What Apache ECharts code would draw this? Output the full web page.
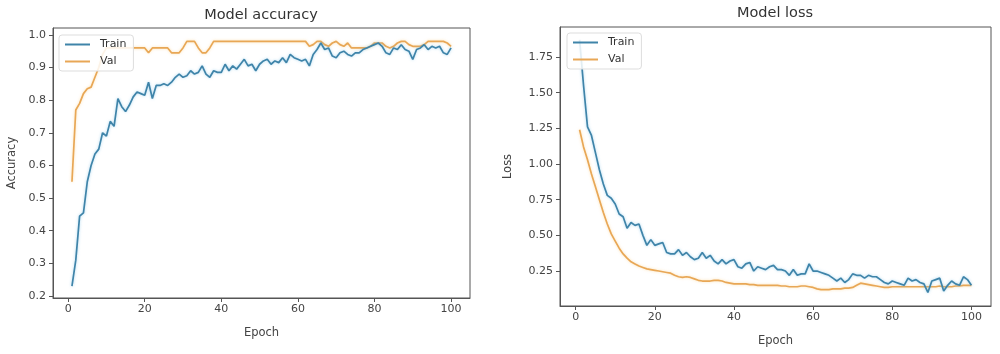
<!DOCTYPE html>
<html>
<head>
<meta charset="utf-8">
<style>
  html, body { margin: 0; padding: 0; background: #fff; }
  #chart { width: 1000px; height: 354px; }
</style>
<script src="https://cdn.jsdelivr.net/npm/echarts@6/dist/echarts.min.js"></script>
</head>
<body>
<div id="chart"></div>
<script>
  // epochs 1..100
  const epochs = [1,2,3,4,5,6,7,8,9,10,11,12,13,14,15,16,17,18,19,20,21,22,23,24,25,26,27,28,29,30,31,32,33,34,35,36,37,38,39,40,41,42,43,44,45,46,47,48,49,50,51,52,53,54,55,56,57,58,59,60,61,62,63,64,65,66,67,68,69,70,71,72,73,74,75,76,77,78,79,80,81,82,83,84,85,86,87,88,89,90,91,92,93,94,95,96,97,98,99,100];

  // Model accuracy
  const accTrain = [0.23,0.31,0.445,0.455,0.55,0.60,0.635,0.65,0.70,0.69,
    0.735,0.72,0.805,0.78,0.765,0.785,0.81,0.825,0.82,0.815,
    0.855,0.805,0.845,0.845,0.85,0.845,0.855,0.87,0.88,0.87,
    0.875,0.89,0.88,0.885,0.905,0.88,0.87,0.89,0.885,0.885,
    0.91,0.89,0.905,0.895,0.91,0.925,0.905,0.91,0.89,0.91,
    0.92,0.925,0.91,0.92,0.915,0.93,0.915,0.94,0.93,0.925,
    0.92,0.925,0.905,0.94,0.955,0.975,0.955,0.96,0.935,0.93,
    0.945,0.95,0.94,0.935,0.945,0.945,0.955,0.96,0.965,0.97,
    0.975,0.965,0.945,0.94,0.96,0.955,0.97,0.955,0.95,0.925,
    0.955,0.96,0.97,0.955,0.965,0.96,0.965,0.945,0.94,0.96];
  const accVal = [0.55,0.77,0.79,0.82,0.835,0.84,0.87,0.90,0.94,0.96,
    0.96,0.96,0.96,0.96,0.96,0.96,0.96,0.96,0.96,0.96,
    0.945,0.96,0.96,0.96,0.96,0.96,0.945,0.945,0.945,0.96,
    0.98,0.98,0.98,0.96,0.945,0.945,0.96,0.98,0.98,0.98,
    0.98,0.98,0.98,0.98,0.98,0.98,0.98,0.98,0.98,0.98,
    0.98,0.98,0.98,0.98,0.98,0.98,0.98,0.98,0.98,0.98,
    0.98,0.98,0.965,0.97,0.98,0.98,0.97,0.965,0.975,0.98,
    0.97,0.965,0.975,0.96,0.96,0.96,0.96,0.96,0.965,0.975,
    0.975,0.975,0.965,0.96,0.965,0.975,0.98,0.98,0.97,0.965,
    0.965,0.965,0.97,0.98,0.98,0.98,0.98,0.98,0.975,0.965];

  // Model loss
  const lossTrain = [1.87,1.55,1.26,1.20,1.08,0.96,0.86,0.78,0.76,0.72,
    0.65,0.63,0.55,0.59,0.57,0.58,0.50,0.43,0.47,0.43,
    0.44,0.45,0.38,0.37,0.37,0.40,0.36,0.38,0.35,0.33,
    0.34,0.38,0.34,0.36,0.32,0.30,0.33,0.30,0.32,0.33,
    0.28,0.27,0.30,0.31,0.25,0.28,0.27,0.26,0.28,0.29,
    0.26,0.26,0.25,0.22,0.26,0.22,0.23,0.23,0.30,0.25,
    0.25,0.24,0.23,0.22,0.20,0.18,0.20,0.17,0.19,0.23,
    0.22,0.22,0.20,0.22,0.21,0.21,0.19,0.17,0.16,0.18,
    0.17,0.16,0.15,0.20,0.18,0.19,0.17,0.16,0.10,0.18,
    0.19,0.20,0.11,0.15,0.18,0.16,0.15,0.21,0.19,0.15];
  const lossVal = [1.24,1.12,1.03,0.93,0.84,0.75,0.66,0.58,0.51,0.46,
    0.41,0.37,0.34,0.315,0.30,0.285,0.275,0.265,0.26,0.255,
    0.25,0.245,0.24,0.235,0.22,0.21,0.205,0.21,0.205,0.195,
    0.185,0.18,0.18,0.18,0.185,0.185,0.18,0.17,0.165,0.16,
    0.16,0.16,0.16,0.155,0.155,0.15,0.15,0.15,0.15,0.15,
    0.15,0.145,0.145,0.14,0.14,0.14,0.145,0.145,0.14,0.135,
    0.125,0.12,0.12,0.12,0.125,0.125,0.125,0.13,0.13,0.135,
    0.15,0.165,0.16,0.155,0.15,0.145,0.14,0.135,0.135,0.14,
    0.14,0.14,0.14,0.14,0.14,0.14,0.14,0.14,0.14,0.14,
    0.14,0.145,0.14,0.14,0.14,0.145,0.145,0.15,0.15,0.15];

  const xTicks = [0, 20, 40, 60, 80, 100];
  const accTicks = [0.2, 0.3, 0.4, 0.5, 0.6, 0.7, 0.8, 0.9, 1.0];
  const lossTicks = [0.25, 0.5, 0.75, 1.0, 1.25, 1.5, 1.75];

  const blue = '#3f84a9';
  const orange = '#e8a756';
  const font = 'DejaVu Sans';
  const axisColor = '#555';

  function pairs(vals) {
    return epochs.map(function (e, i) { return [e, vals[i]]; });
  }

  function xAxisOf(idx) {
    return {
      type: 'value', gridIndex: idx,
      min: -3.95, max: 104.95,
      name: 'Epoch', nameLocation: 'middle', nameGap: 29,
      nameTextStyle: { fontFamily: font, fontSize: 11.5, color: '#444' },
      axisLine: { show: true, onZero: false, lineStyle: { color: axisColor, width: 1 } },
      axisTick: { show: true, inside: false, length: 4, customValues: xTicks, lineStyle: { color: axisColor } },
      axisLabel: { customValues: xTicks, margin: 6, fontFamily: font, fontSize: 11, color: '#444' },
      splitLine: { show: false }
    };
  }

  function yAxisOf(idx, min, max, ticks, name, gap, fmt) {
    return {
      type: 'value', gridIndex: idx,
      min: min, max: max,
      name: name, nameLocation: 'middle', nameGap: gap, nameRotate: 90,
      nameTextStyle: { fontFamily: font, fontSize: 11.5, color: '#444' },
      axisLine: { show: true, onZero: false, lineStyle: { color: axisColor, width: 1 } },
      axisTick: { show: true, inside: false, length: 4, customValues: ticks, lineStyle: { color: axisColor } },
      axisLabel: { customValues: ticks, margin: 7, fontFamily: font, fontSize: 11, color: '#444', formatter: fmt },
      splitLine: { show: false }
    };
  }

  function lineSeries(name, idx, vals, color, glow) {
    return {
      name: name, type: 'line',
      xAxisIndex: idx, yAxisIndex: idx,
      data: pairs(vals),
      showSymbol: false, symbol: 'none',
      lineStyle: { color: color, width: 1.7, shadowColor: glow, shadowBlur: 3 },
      itemStyle: { color: color },
      z: name === 'Train' ? 3 : 2
    };
  }

  function legendOf(idx, left, top) {
    return {
      left: left, top: top,
      orient: 'vertical',
      data: [
        { name: 'Train', itemStyle: { color: blue } },
        { name: 'Val', itemStyle: { color: orange } }
      ],
      icon: 'rect', itemWidth: 25, itemHeight: 2, itemGap: 6,
      padding: [4, 7, 4, 6],
      borderColor: '#ddd', borderWidth: 1, borderRadius: 3,
      backgroundColor: 'rgba(255,255,255,0.85)',
      textStyle: { fontFamily: font, fontSize: 11, color: '#333', padding: [0, 0, 0, 5] },
      selectedMode: false
    };
  }

  const chart = echarts.init(document.getElementById('chart'), null, { renderer: 'canvas' });

  const option = {
    animation: false,
    backgroundColor: '#fff',
    title: [
      { text: 'Model accuracy', left: 261, top: 8, textAlign: 'center', padding: 0,
        textStyle: { fontFamily: font, fontSize: 14.5, fontWeight: 'normal', color: '#333' } },
      { text: 'Model loss', left: 775, top: 6, textAlign: 'center', padding: 0,
        textStyle: { fontFamily: font, fontSize: 14.5, fontWeight: 'normal', color: '#333' } }
    ],
    legend: [legendOf(0, 59, 35), legendOf(1, 567, 33)],
    grid: [
      { left: 53, right: 530, top: 28, bottom: 56, show: true, borderColor: axisColor, borderWidth: 1, containLabel: false },
      { left: 560, right: 9, top: 27, bottom: 48, show: true, borderColor: axisColor, borderWidth: 1, containLabel: false }
    ],
    xAxis: [xAxisOf(0), xAxisOf(1)],
    yAxis: [
      yAxisOf(0, 0.194, 1.021, accTicks, 'Accuracy', 35, function (v) { return v.toFixed(1); }),
      yAxisOf(1, 0.005, 1.96, lossTicks, 'Loss', 46, function (v) { return v.toFixed(2); })
    ],
    series: [
      lineSeries('Train', 0, accTrain, blue, 'rgba(120,190,230,0.6)'),
      lineSeries('Val', 0, accVal, orange, 'rgba(250,205,130,0.6)'),
      lineSeries('Train', 1, lossTrain, blue, 'rgba(120,190,230,0.6)'),
      lineSeries('Val', 1, lossVal, orange, 'rgba(250,205,130,0.6)')
    ]
  };

  chart.setOption(option);
</script>
</body>
</html>
